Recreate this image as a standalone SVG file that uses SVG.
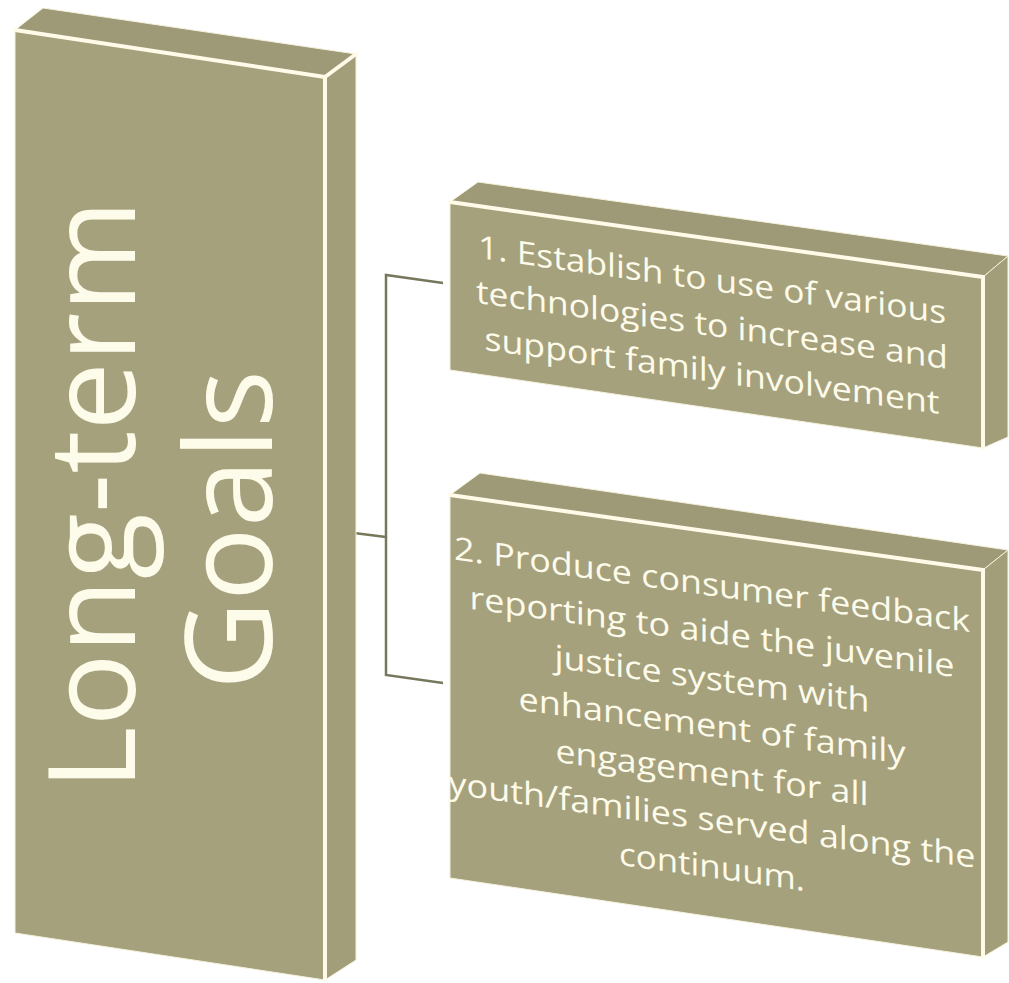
<svg xmlns="http://www.w3.org/2000/svg" width="1009" height="983" viewBox="0 0 1009 983">
<defs>
<style>
.front{fill:#a6a17d;stroke:#f4f1dc;stroke-width:1}
.top{fill:#9e9a77;stroke:#f4f1dc;stroke-width:1}
.side{fill:#a39e7a;stroke:#f4f1dc;stroke-width:1}
.edge{stroke:#fffbe8;stroke-width:4;fill:none;stroke-linecap:round}
.big{font-family:"Open Sans","Liberation Sans",sans-serif;font-weight:400;font-size:120px;fill:#fdfbea;text-anchor:middle}
.lbl{font-family:"Open Sans","Liberation Sans",sans-serif;font-size:32px;fill:#fdfbea;text-anchor:middle}
.conn{stroke:#77775c;stroke-width:2.5;fill:none}
</style>
</defs>
<rect width="1009" height="983" fill="#ffffff"/>
<g id="connectors">
<path class="conn" d="M443,283 L386,275 L386,675 L443,683"/>
<path class="conn" d="M330,530 L386,537"/>
</g>
<g id="node-longterm">
<polygon class="top" points="15,30 43,8 356,54 325,77"/>
<polygon class="side" points="325,77 356,54 356,960 325,980"/>
<polygon class="front" points="15,30 325,77 325,980 15,933"/>
<path class="edge" d="M15,30 L325,77 L325,980"/>
<path class="edge" d="M325,77 L356,54"/>
<text class="big" transform="translate(135,495) rotate(-90)" textLength="590" lengthAdjust="spacingAndGlyphs">Long-term</text>
<text class="big" transform="translate(272,530) rotate(-90)" textLength="320" lengthAdjust="spacingAndGlyphs">Goals</text>
</g>
<g id="node-goal1">
<polygon class="top" points="450,202 478,182 1008,256 983,277"/>
<polygon class="side" points="983,277 1008,256 1008,437 983,448"/>
<polygon class="front" points="450,202 983,277 983,448 450,370"/>
<path class="edge" d="M450,202 L983,277 L983,448"/>
<g transform="translate(450,202) skewY(8.01)">
<text class="lbl" x="262" y="52" textLength="468" lengthAdjust="spacingAndGlyphs">1. Establish to use of various</text>
<text class="lbl" x="262" y="97" textLength="472" lengthAdjust="spacingAndGlyphs">technologies to increase and</text>
<text class="lbl" x="262" y="143" textLength="455" lengthAdjust="spacingAndGlyphs">support family involvement</text>
</g>
</g>
<g id="node-goal2">
<polygon class="top" points="450,495 480,473 1008,550 983,570"/>
<polygon class="side" points="983,570 1008,550 1008,942 983,957"/>
<polygon class="front" points="450,495 983,570 983,957 450,878"/>
<path class="edge" d="M450,495 L983,570 L983,957"/>
<g transform="translate(450,495) skewY(8.01)">
<text class="lbl" x="262" y="64" textLength="516" lengthAdjust="spacingAndGlyphs">2. Produce consumer feedback</text>
<text class="lbl" x="262" y="111" textLength="485" lengthAdjust="spacingAndGlyphs">reporting to aide the juvenile</text>
<text class="lbl" x="262" y="158" textLength="315" lengthAdjust="spacingAndGlyphs">justice system with</text>
<text class="lbl" x="262" y="205" textLength="387" lengthAdjust="spacingAndGlyphs">enhancement of family</text>
<text class="lbl" x="262" y="252" textLength="313" lengthAdjust="spacingAndGlyphs">engagement for all</text>
<text class="lbl" x="262" y="299" textLength="527" lengthAdjust="spacingAndGlyphs">youth/families served along the</text>
<text class="lbl" x="262" y="346" textLength="186" lengthAdjust="spacingAndGlyphs">continuum.</text>
</g>
</g>
</svg>
